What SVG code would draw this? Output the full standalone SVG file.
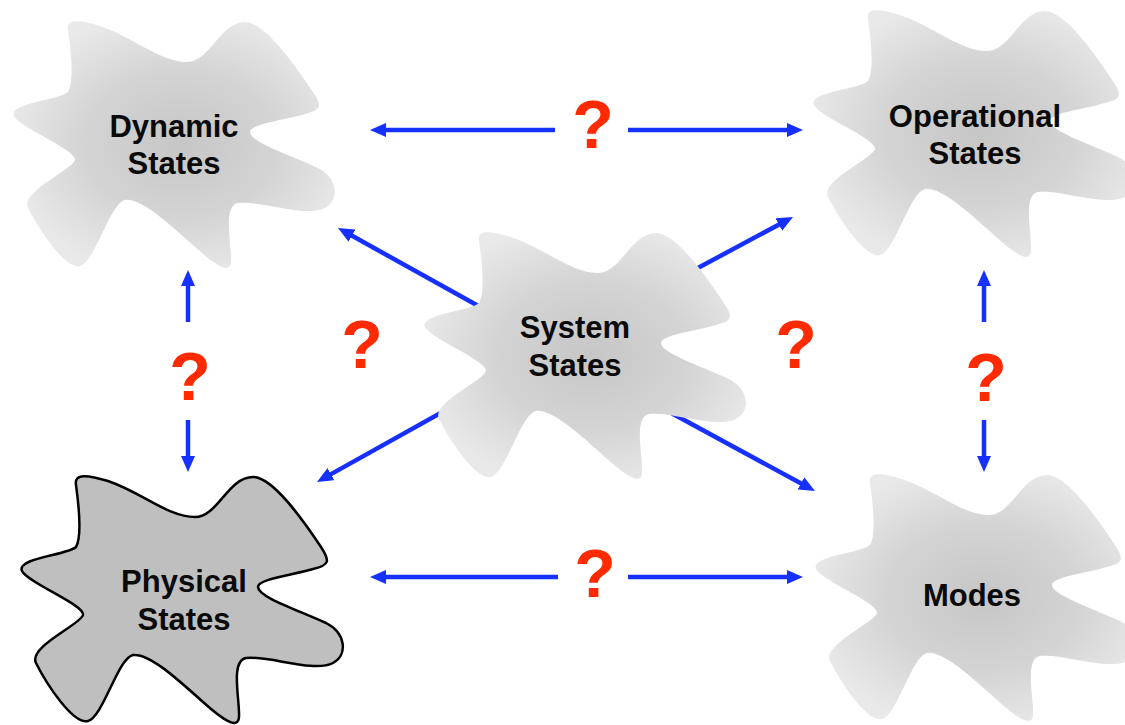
<svg xmlns="http://www.w3.org/2000/svg" width="1125" height="725" viewBox="0 0 1125 725">
<style>
.lbl{font-family:"Liberation Sans",Arial,sans-serif;font-weight:bold;font-size:31px;fill:#0a0a0a;text-anchor:middle}
.q{font-family:"Liberation Sans",Arial,sans-serif;font-weight:bold;font-size:68px;fill:#ff2a00;text-anchor:middle}
.arr{stroke:#1530ff;stroke-width:4.5;fill:none;marker-end:url(#ah)}
.soft{fill:url(#gr)}
.phys{fill:#bfbfbf;stroke:#000;stroke-width:2.5}
</style>
<defs>
<radialGradient id="gr" cx="0.52" cy="0.5" r="0.55">
<stop offset="0" stop-color="#c6c6c6"/>
<stop offset="0.55" stop-color="#d4d4d4"/>
<stop offset="1" stop-color="#e9e9e9"/>
</radialGradient>
<marker id="ah" markerUnits="userSpaceOnUse" markerWidth="16" markerHeight="14" viewBox="0 0 16 14" refX="5" refY="7" orient="auto">
<path d="M0,0 L16,7 L0,14 Z" fill="#1530ff"/>
</marker>
<path id="blob" d="M68,30 C66,18 80,20 100,26 C135,38 160,62 187,62 C210,62 220,22 245,22 C265,22 295,65 313,92 C322,106 322,110 305,114 C285,120 250,124 250,132 C250,142 290,155 318,168 C338,178 340,200 325,208 C305,218 260,200 238,203 C222,206 232,245 231,262 C230,275 215,265 195,247 C165,220 140,198 125,200 C110,203 95,262 80,266 C65,270 38,228 28,208 C20,192 72,170 75,160 C77,150 20,128 14,116 C8,103 60,100 68,92 C75,80 70,45 68,30 Z"/>
</defs>
<rect width="1125" height="725" fill="#fff"/>
<g id="connectors">
<line class="arr" x1="555" y1="130" x2="381" y2="130"/>
<line class="arr" x1="628" y1="130" x2="792" y2="130"/>
<line class="arr" x1="558" y1="577" x2="381" y2="577"/>
<line class="arr" x1="628" y1="577" x2="792" y2="577"/>
<line class="arr" x1="188" y1="322" x2="188" y2="281"/>
<line class="arr" x1="188" y1="420" x2="188" y2="461"/>
<line class="arr" x1="984" y1="322" x2="984" y2="281"/>
<line class="arr" x1="984" y1="420" x2="984" y2="461"/>
<line class="arr" x1="500" y1="318" x2="347.6" y2="233.3"/>
<line class="arr" x1="640" y1="299" x2="783.3" y2="222.2"/>
<line class="arr" x1="480" y1="391" x2="326.6" y2="476.6"/>
<line class="arr" x1="640" y1="396" x2="805.3" y2="485.8"/>
</g>
<g id="questions">
<text class="q" x="593" y="148">?</text>
<text class="q" x="595" y="597">?</text>
<text class="q" x="190" y="400">?</text>
<text class="q" x="986" y="401">?</text>
<text class="q" x="362" y="368">?</text>
<text class="q" x="796" y="368">?</text>
</g>
<g id="dynamic">
<use href="#blob" class="soft"/>
<text class="lbl" x="174" y="137">Dynamic</text>
<text class="lbl" x="174" y="174">States</text>
</g>
<g id="operational">
<use href="#blob" class="soft" transform="translate(800,-11)"/>
<text class="lbl" x="975" y="127">Operational</text>
<text class="lbl" x="975" y="164">States</text>
</g>
<g id="modes">
<use href="#blob" class="soft" transform="translate(802,453)"/>
<text class="lbl" x="972" y="606">Modes</text>
</g>
<g id="physical">
<use href="#blob" class="phys" transform="translate(8,455)"/>
<text class="lbl" x="184" y="592">Physical</text>
<text class="lbl" x="184" y="630">States</text>
</g>
<g id="system">
<use href="#blob" class="soft" transform="translate(411,211)"/>
<text class="lbl" x="575" y="338">System</text>
<text class="lbl" x="575" y="376">States</text>
</g>
</svg>
